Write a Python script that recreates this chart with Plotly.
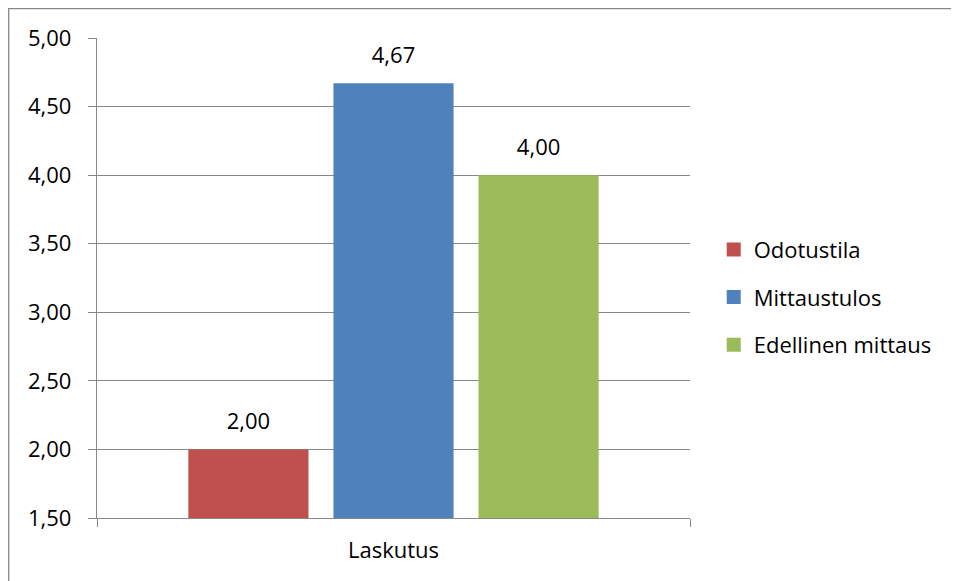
import plotly.graph_objects as go

categories = ["Laskutus"]
series_names = ["Odotustila", "Mittaustulos", "Edellinen mittaus"]
series_values = [[2.00], [4.67], [4.00]]
series_colors = ["#C0504D", "#4F81BD", "#9BBB59"]
y_ticks = [1.5, 2.0, 2.5, 3.0, 3.5, 4.0, 4.5, 5.0]

FONT = "Open Sans"
FS = 22
GRID = "#888888"

fig = go.Figure()
for i, (name, vals, col) in enumerate(zip(series_names, series_values, series_colors)):
    fig.add_trace(go.Bar(
        x=categories, y=vals, name=name, marker=dict(color=col, line=dict(width=0)),
        offsetgroup=str(i), alignmentgroup="a", showlegend=False,
    ))
for i, (name, vals) in enumerate(zip(series_names, series_values)):
    fig.add_trace(go.Scatter(
        x=categories, y=vals, mode="markers+text", text=[f"{v:.2f}".replace(".", ",") for v in vals],
        textposition="top center", marker=dict(size=22, opacity=0, color="white"),
        textfont=dict(family=FONT, size=FS, color="black"),
        offsetgroup=str(i), alignmentgroup="a", showlegend=False, hoverinfo="skip",
        cliponaxis=False,
    ))
# legend entries with square swatches
for name, col in zip(series_names, series_colors):
    fig.add_trace(go.Scatter(
        x=[None], y=[None], mode="markers", name=name, legendgroup=name,
        marker=dict(symbol="square", size=14, color=col), hoverinfo="skip",
    ))

fig.update_layout(
    width=951, height=573,
    margin=dict(l=89, r=269, t=30, b=63),
    paper_bgcolor="white", plot_bgcolor="white",
    barmode="group", bargap=0.266, bargroupgap=0.172,
    scattermode="group", scattergap=0.266,
    separators=", ",
    font=dict(family=FONT, size=FS, color="black"),
    showlegend=True,
    legend=dict(x=1.04, y=0.46, xanchor="left", yanchor="middle",
                traceorder="grouped", tracegroupgap=16, itemsizing="trace",
                font=dict(family=FONT, size=FS, color="black"),
                bgcolor="rgba(0,0,0,0)"),
    xaxis=dict(type="category", showline=True, linecolor=GRID, linewidth=1.3,
               ticks="outside", tickson="boundaries", ticklen=8, tickcolor=GRID,
               showgrid=False, ticklabelstandoff=12),
    yaxis=dict(range=[1.5, 5.0], tickvals=y_ticks, tickformat=".2f",
               showline=True, linecolor=GRID, linewidth=1.3,
               ticks="outside", ticklen=8, tickcolor=GRID,
               showgrid=True, gridcolor=GRID, gridwidth=1.3,
               zeroline=False, ticklabelstandoff=12),
    shapes=[dict(type="rect", xref="paper", yref="paper",
                 x0=(0.7 - 89) / 593, x1=1.6, y0=-0.3, y1=(510 - 0.7) / 480,
                 line=dict(color=GRID, width=1.3), fillcolor="rgba(0,0,0,0)", layer="below")],
)

fig.write_html("out.html")
